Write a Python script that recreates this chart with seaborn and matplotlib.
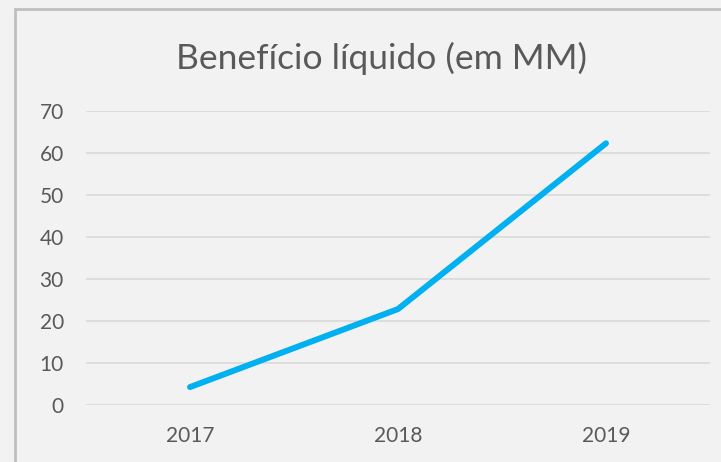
import seaborn as sns
import matplotlib.pyplot as plt
import pandas as pd
from matplotlib.patches import Rectangle

years = ['2017', '2018', '2019']
beneficio = [4.2, 22.8, 62.3]
yticks = [0, 10, 20, 30, 40, 50, 60, 70]

bg = '#F2F2F2'
txt = '#595959'

sns.set_theme(style='white')
plt.rcParams['font.family'] = ['Lato', 'DejaVu Sans']

df = pd.DataFrame({'ano': years, 'valor': beneficio})

fig = plt.figure(figsize=(7.21, 4.62), dpi=100, facecolor=bg)
ax = fig.add_axes([86 / 721, 1 - 404.7 / 462, 624 / 721, 293.7 / 462])
ax.set_facecolor(bg)

sns.lineplot(data=df, x='ano', y='valor', ax=ax, color='#00B0F0',
             linewidth=4.3, solid_capstyle='round', solid_joinstyle='round',
             sort=False, zorder=3)

ax.set_xlim(-0.5, 2.5)
ax.set_ylim(0, 70)
ax.set_yticks(yticks)
ax.yaxis.grid(True, color='#D9D9D9', linewidth=1.2)
ax.set_axisbelow(True)
for s in ax.spines.values():
    s.set_visible(False)
ax.tick_params(axis='y', length=0, pad=16, labelsize=15, labelcolor=txt)
ax.tick_params(axis='x', length=0, pad=15, labelsize=15, labelcolor=txt)
ax.set_xlabel('')
ax.set_ylabel('')

# chart border (Excel-like chart area)
fig.patches.append(Rectangle((15 / 721, -0.1), 1.2, 1 - 9 / 462 + 0.1,
                             transform=fig.transFigure, fill=False,
                             edgecolor='#BFBFBF', linewidth=2))

fig.text(381 / 721, 1 - 58 / 462, 'Benefício líquido (em MM)', ha='center',
         va='center', fontsize=25.5, color=txt)

fig.savefig('out.png', dpi=100, facecolor=bg)
